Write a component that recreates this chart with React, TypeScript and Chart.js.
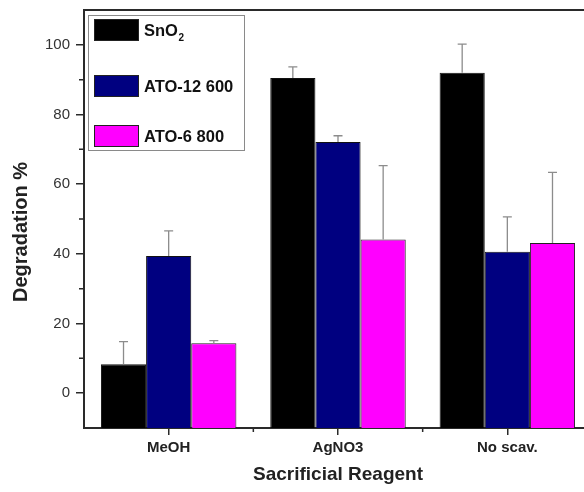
import React, { useEffect, useRef } from "react";
import { Chart, registerables } from "chart.js";

Chart.register(...registerables);

const categories = ["MeOH", "AgNO3", "No scav."];
const seriesNames = ["SnO2", "ATO-12 600", "ATO-6 800"];
const sno2 = [8.3, 90.5, 92.0];
const sno2Err = [6.5, 3.2, 8.2];
const ato12 = [39.4, 72.1, 40.6];
const ato12Err = [7.2, 1.8, 10.0];
const ato6 = [14.3, 44.1, 43.1];
const ato6Err = [0.8, 21.2, 20.3];
const yTicks = [0, 20, 40, 60, 80, 100];
const yMinorTicks = [10, 30, 50, 70, 90];
const yTitle = "Degradation %";
const xTitle = "Sacrificial Reagent";

const colors = ["#000000", "#000080", "#ff00ff"];
const FONT = "'Liberation Sans', Arial, sans-serif";

const errors = [sno2Err, ato12Err, ato6Err];

const errorBarPlugin = {
  id: "errorBars",
  afterDatasetsDraw(chart: any) {
    const ctx = chart.ctx;
    const y = chart.scales.y;
    ctx.save();
    ctx.strokeStyle = "#8c8c8c";
    ctx.lineWidth = 1.3;
    chart.data.datasets.forEach((ds: any, di: number) => {
      const meta = chart.getDatasetMeta(di);
      meta.data.forEach((el: any, i: number) => {
        const v = ds.data[i];
        const e = errors[di][i];
        const x = el.x;
        const y0 = y.getPixelForValue(v);
        const y1 = y.getPixelForValue(v + e);
        ctx.beginPath();
        ctx.moveTo(x, y0);
        ctx.lineTo(x, y1);
        ctx.moveTo(x - 4.5, y1);
        ctx.lineTo(x + 4.5, y1);
        ctx.stroke();
      });
    });
    ctx.restore();
  },
};

const framePlugin = {
  id: "frame",
  afterDraw(chart: any) {
    const ctx = chart.ctx;
    const { left, right, top, bottom } = chart.chartArea;
    const x = chart.scales.x;
    const y = chart.scales.y;
    ctx.save();
    ctx.strokeStyle = "#2a2a2a";
    ctx.lineWidth = 2;
    ctx.beginPath();
    ctx.moveTo(left - 1, top);
    ctx.lineTo(right, top);
    ctx.lineTo(right, bottom);
    ctx.stroke();
    // minor ticks y
    ctx.lineWidth = 1.5;
    ctx.beginPath();
    yMinorTicks.forEach((v) => {
      const py = y.getPixelForValue(v);
      ctx.moveTo(left - 5, py);
      ctx.lineTo(left, py);
    });
    // minor ticks x at category boundaries
    for (let i = 1; i < categories.length; i++) {
      const px = (x.getPixelForValue(i - 1) + x.getPixelForValue(i)) / 2;
      ctx.moveTo(px, bottom);
      ctx.lineTo(px, bottom + 4);
    }
    ctx.stroke();

    // y title (offset below axis center as in the reference)
    ctx.save();
    ctx.translate(21, (top + bottom) / 2 + 13);
    ctx.rotate(-Math.PI / 2);
    ctx.font = `bold 20px ${FONT}`;
    ctx.fillStyle = "#222";
    ctx.textAlign = "center";
    ctx.textBaseline = "middle";
    ctx.fillText(yTitle, 0, 0);
    ctx.restore();

    // legend
    const lx = left + 4;
    const ly = top + 5;
    ctx.strokeStyle = "#8a8a8a";
    ctx.lineWidth = 1;
    ctx.strokeRect(lx + 0.5, ly + 0.5, 156, 135);
    const swTops = [19, 75, 125];
    ctx.textBaseline = "middle";
    ctx.textAlign = "left";
    seriesNames.forEach((name, i) => {
      const sy = swTops[i];
      ctx.fillStyle = colors[i];
      ctx.fillRect(94, sy, 45, 22);
      ctx.strokeStyle = "#222";
      ctx.lineWidth = 1;
      ctx.strokeRect(94.5, sy + 0.5, 44, 21);
      ctx.fillStyle = "#111";
      const cy = sy + 12;
      ctx.font = `bold 16.5px ${FONT}`;
      if (name === "SnO2") {
        ctx.fillText("SnO", 144, cy);
        const w = ctx.measureText("SnO").width;
        ctx.font = `bold 10px ${FONT}`;
        ctx.fillText("2", 144 + w + 0.5, cy + 7);
      } else {
        ctx.fillText(name, 144, cy);
      }
    });
    ctx.restore();
  },
};

export default function App() {
  const ref = useRef<HTMLCanvasElement>(null);
  useEffect(() => {
    document.body.style.margin = "0";
    document.body.style.overflow = "hidden";
    const chart = new Chart(ref.current as HTMLCanvasElement, {
      type: "bar",
      data: {
        labels: categories,
        datasets: [
          { label: seriesNames[0], data: sno2, backgroundColor: colors[0], borderColor: "#111", borderWidth: 1, base: -10 } as any,
          { label: seriesNames[1], data: ato12, backgroundColor: colors[1], borderColor: "#111", borderWidth: 1, base: -10 } as any,
          { label: seriesNames[2], data: ato6, backgroundColor: colors[2], borderColor: "#222", borderWidth: 1, base: -10 } as any,
        ],
      },
      options: {
        animation: false,
        responsive: true,
        maintainAspectRatio: false,
        datasets: { bar: { categoryPercentage: 0.8, barPercentage: 1.0 } },
        layout: { padding: { top: 10, right: 8, left: 0, bottom: 0 } },
        plugins: { legend: { display: false }, tooltip: { enabled: false } },
        scales: {
          x: {
            grid: { drawOnChartArea: false, drawTicks: true, tickLength: 7, offset: false, color: "#2a2a2a", lineWidth: 1.5 },
            border: { display: true, color: "#2a2a2a", width: 2 },
            ticks: { color: "#222", font: { family: FONT, size: 15, weight: "bold" }, padding: 4 },
            title: { display: true, text: xTitle, color: "#222", font: { family: FONT, size: 19, weight: "bold" }, padding: { top: 0, bottom: 6 } },
            afterFit: (s: any) => { s.height = 64; s.paddingLeft = 0; s.paddingRight = 0; },
          },
          y: {
            min: -10,
            max: 110,
            afterBuildTicks: (s: any) => { s.ticks = yTicks.map((v) => ({ value: v })); },
            grid: { drawOnChartArea: false, drawTicks: true, tickLength: 8, color: "#2a2a2a", lineWidth: 1.5 },
            border: { display: true, color: "#2a2a2a", width: 2 },
            ticks: { color: "#333", font: { family: FONT, size: 15 }, padding: 6 },
            title: { display: false },
            afterFit: (s: any) => { s.width = 84; s.paddingTop = 0; s.paddingBottom = 0; },
          },
        },
      },
      plugins: [errorBarPlugin, framePlugin],
    });
    return () => chart.destroy();
  }, []);
  return (
    <div style={{ position: "fixed", left: 0, top: 0, width: 600, height: 492 }}>
      <canvas ref={ref} />
    </div>
  );
}
